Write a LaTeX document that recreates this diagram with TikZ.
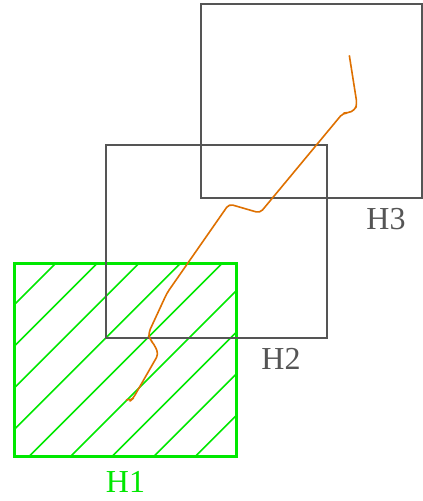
\documentclass[tikz,border=0pt]{standalone}
\usepackage{fontspec}
\setmainfont{Liberation Serif}
\usetikzlibrary{positioning}
\definecolor{boxgray}{RGB}{85,85,85}
\definecolor{hgreen}{RGB}{0,232,0}
\definecolor{pathorange}{RGB}{222,112,0}
\tikzset{
  grayframe/.style={draw=boxgray, line width=2pt, inner sep=0pt, fill=none},
  greenframe/.style={draw=hgreen, line width=3pt, inner sep=0pt},
  hatchline/.style={draw=hgreen, line width=1.6pt},
  tag/.style={font=\fontsize{32}{34}\selectfont, inner sep=0pt},
  track/.style={draw=pathorange, line width=1.6pt, rounded corners=4pt, line join=round}
}
\begin{document}
\begin{tikzpicture}[x=1pt,y=-1pt]
\useasboundingbox (0,0) rectangle (423,501);
\fill[white] (0,0) rectangle (423,501);
% H1 hatched box
\begin{scope}
\clip (14,263) rectangle (236,456);
\foreach \k in {0,...,8} {
  \pgfmathsetmacro{\c}{319+41.6*\k}
  \draw[hatchline] ({\c-456},456) -- ({\c-263},263);
}
\end{scope}
\node[greenframe, minimum width=222pt, minimum height=193pt] (h1) at (125,359.5) {};
\node[tag, text=hgreen] (h1lab) at (125.5,482) {H1};
% H2 and H3 boxes
\node[grayframe, minimum width=221pt, minimum height=193pt] (h2) at (216.5,241.5) {};
\node[tag, text=boxgray] (h2lab) at (281,359) {H2};
\node[grayframe, minimum width=221pt, minimum height=194pt] (h3) at (311.5,101) {};
\node[tag, text=boxgray] (h3lab) at (386,219) {H3};
% orange track
\coordinate (t0) at (349.3,55.3);
\coordinate (t9) at (127.7,400);
\draw[track] (t0) -- (357,104) -- (355,110) -- (348,113) -- (343,113) -- (260,213) -- (229,204)
  -- (167,293) -- (148.5,333) -- (149.5,339) -- (154,344) -- (158.5,354)
  -- (133,398.5) -- (130.5,400.7) -- (t9);
\end{tikzpicture}
\end{document}
